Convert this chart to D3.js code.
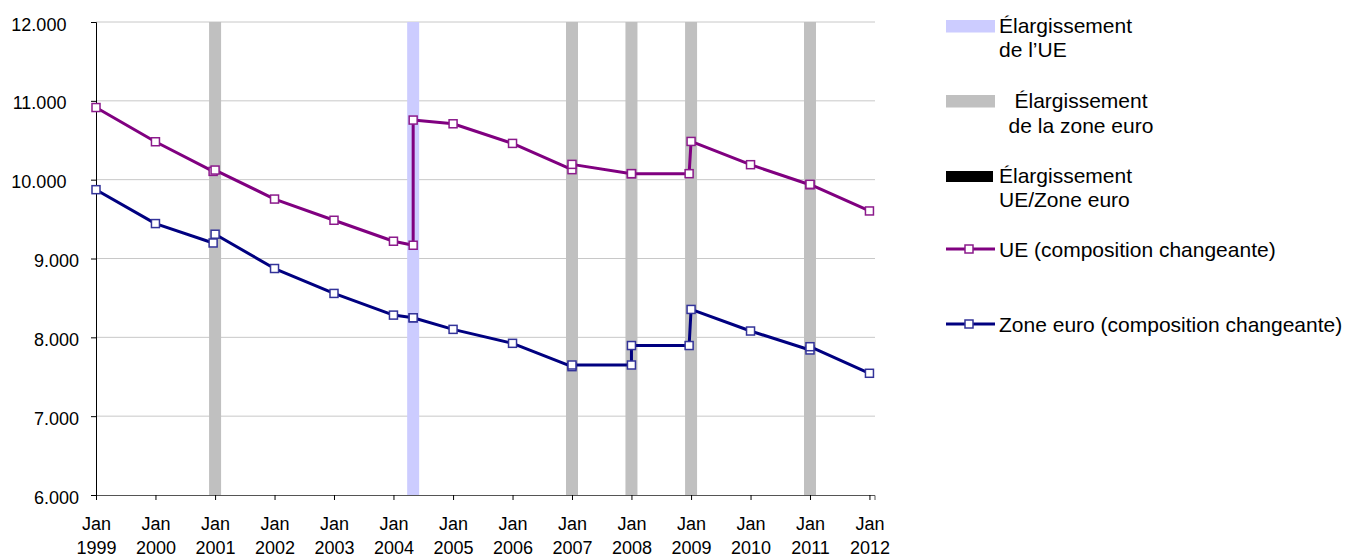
<!DOCTYPE html>
<html>
<head>
<meta charset="utf-8">
<script src="https://cdn.jsdelivr.net/npm/d3@7"></script>
<style>
  body { margin: 0; background: #fff; }
  svg { display: block; font-family: "Liberation Sans", Arial, sans-serif; }
</style>
</head>
<body>
<svg id="chart"></svg>
<script>
// observation dates (two entries on the same date = before / after an enlargement)
const dates = [
  "1999-01-01", "2000-01-01", "2000-12-20", "2001-01-01", "2002-01-01",
  "2003-01-01", "2004-01-01", "2004-05-01", "2004-05-01", "2005-01-01",
  "2006-01-01", "2007-01-01", "2007-01-01", "2008-01-01", "2008-01-01",
  "2008-12-20", "2009-01-01", "2010-01-01", "2011-01-01", "2011-01-01",
  "2012-01-01"
];
const ueValues = [
  10915, 10481, 10105, 10122, 9754,
  9485, 9219, 9168, 10756, 10709,
  10460, 10127, 10194, 10076, 10076,
  10076, 10485, 10190, 9935, 9941,
  9603
];
const euroValues = [
  9873, 9443, 9197, 9308, 8873,
  8557, 8282, 8248, 8248, 8101,
  7924, 7628, 7649, 7649, 7896,
  7896, 8354, 8080, 7840, 7881,
  7544
];
const euEnlargements = ["2004-05-01"];
const euroEnlargements = ["2001-01-01", "2007-01-01", "2008-01-01", "2009-01-01", "2011-01-01"];
const yTicks = [6000, 7000, 8000, 9000, 10000, 11000, 12000];
const xDomain = ["1999-01-01", "2012-02-01"];
const monthLabel = "Jan";

const seriesNames = ["UE (composition changeante)", "Zone euro (composition changeante)"];
const bandNames = [["Élargissement", "de l’UE"], ["Élargissement", "de la zone euro"], ["Élargissement", "UE/Zone euro"]];

const width = 1351;
const height = 558;
const parse = d3.utcParse("%Y-%m-%d");
const fmt = d3.formatLocale({ decimal: ",", thousands: ".", grouping: [3], currency: ["", " €"] }).format(",d");

const svg = d3.select("#chart")
  .attr("width", width)
  .attr("height", height)
  .attr("viewBox", `0 0 ${width} ${height}`);

const x = d3.scaleUtc().domain(xDomain.map(parse)).range([96, 874.5]);
const y = d3.scaleLinear().domain([6000, 12000]).range([495, 22]);

// gridlines
svg.append("g")
  .selectAll("line")
  .data(yTicks.slice(1))
  .join("line")
  .attr("x1", 96)
  .attr("x2", 875)
  .attr("y1", d => y(d))
  .attr("y2", d => y(d))
  .attr("stroke", "#c8c8c8")
  .attr("stroke-width", 1);

// enlargement bands
const band = (data, color) => svg.append("g")
  .selectAll("rect")
  .data(data.map(parse))
  .join("rect")
  .attr("x", d => x(d) - 6)
  .attr("width", 12)
  .attr("y", y(12000))
  .attr("height", y(6000) - y(12000))
  .attr("fill", color);
band(euroEnlargements, "#c0c0c0");
band(euEnlargements, "#ccccff");

// axes
const yAxis = svg.append("g")
  .attr("transform", "translate(96,0)")
  .call(d3.axisLeft(y).tickValues(yTicks).tickFormat(fmt).tickSize(5).tickPadding(12))
  .call(g => g.select(".domain").attr("stroke", "#000"))
  .call(g => g.selectAll(".tick line").attr("stroke", "#000"));
yAxis.selectAll(".tick text")
  .attr("font-size", 18)
  .attr("font-family", "Liberation Sans, Arial, sans-serif")
  .attr("fill", "#000")
  .attr("dy", "0.45em")
  .attr("dx", d => d >= 10000 ? "-0.7em" : 0);

const xAxis = svg.append("g")
  .attr("transform", `translate(0,${y(6000)})`)
  .call(d3.axisBottom(x).ticks(d3.utcYear.every(1)).tickFormat(() => "").tickSizeOuter(0).tickSize(5))
  .call(g => g.select(".domain").attr("stroke", "#555"))
  .call(g => g.selectAll(".tick line").attr("stroke", "#000"));
xAxis.selectAll(".tick text")
  .attr("font-size", 18)
  .attr("font-family", "Liberation Sans, Arial, sans-serif")
  .attr("fill", "#000")
  .attr("y", 0)
  .attr("dy", 0)
  .each(function (d) {
    const t = d3.select(this);
    t.append("tspan").attr("x", 0).attr("y", 35).text(monthLabel);
    t.append("tspan").attr("x", 0).attr("y", 59).text(d.getUTCFullYear());
  });

// series
const series = [
  { name: seriesNames[0], values: ueValues, color: "#800080", marker: "#8b1a8b" },
  { name: seriesNames[1], values: euroValues, color: "#000080", marker: "#333399" }
];
const line = d3.line().x(d => x(d.date)).y(d => y(d.value));
const ms = 8;

series.forEach(s => {
  const pts = dates.map((d, i) => ({ date: parse(d), value: s.values[i] }));
  svg.append("path")
    .datum(pts)
    .attr("d", line)
    .attr("fill", "none")
    .attr("stroke", s.color)
    .attr("stroke-width", 3)
    .attr("stroke-linejoin", "round");
  svg.append("g")
    .selectAll("rect")
    .data(pts)
    .join("rect")
    .attr("x", d => x(d.date) - ms / 2)
    .attr("y", d => y(d.value) - ms / 2)
    .attr("width", ms)
    .attr("height", ms)
    .attr("fill", "#fff")
    .attr("stroke", s.marker)
    .attr("stroke-width", 1.5);
});

// legend
const legend = svg.append("g")
  .attr("font-size", 21)
  .attr("fill", "#000");

legend.append("rect").attr("x", 946).attr("y", 20).attr("width", 49).attr("height", 12.5).attr("fill", "#ccccff");
legend.append("text").attr("x", 999).attr("y", 33).text(bandNames[0][0]);
legend.append("text").attr("x", 999).attr("y", 57).text(bandNames[0][1]);

legend.append("rect").attr("x", 946).attr("y", 95).attr("width", 49).attr("height", 12.5).attr("fill", "#c0c0c0");
legend.append("text").attr("x", 1081).attr("y", 108).attr("text-anchor", "middle").text(bandNames[1][0]);
legend.append("text").attr("x", 1081).attr("y", 133).attr("text-anchor", "middle").text(bandNames[1][1]);

legend.append("rect").attr("x", 946).attr("y", 171).attr("width", 47).attr("height", 11).attr("fill", "#000");
legend.append("text").attr("x", 999).attr("y", 182.5).text(bandNames[2][0]);
legend.append("text").attr("x", 999).attr("y", 207).text(bandNames[2][1]);

series.forEach((s, i) => {
  const ly = 249 + i * 75;
  legend.append("line")
    .attr("x1", 946).attr("x2", 995).attr("y1", ly).attr("y2", ly)
    .attr("stroke", s.color).attr("stroke-width", 3);
  legend.append("rect")
    .attr("x", 969 - ms / 2).attr("y", ly - ms / 2).attr("width", ms).attr("height", ms)
    .attr("fill", "#fff").attr("stroke", s.marker).attr("stroke-width", 1.5);
  legend.append("text").attr("x", 999).attr("y", ly + 7.5).text(s.name);
});
</script>
</body>
</html>
